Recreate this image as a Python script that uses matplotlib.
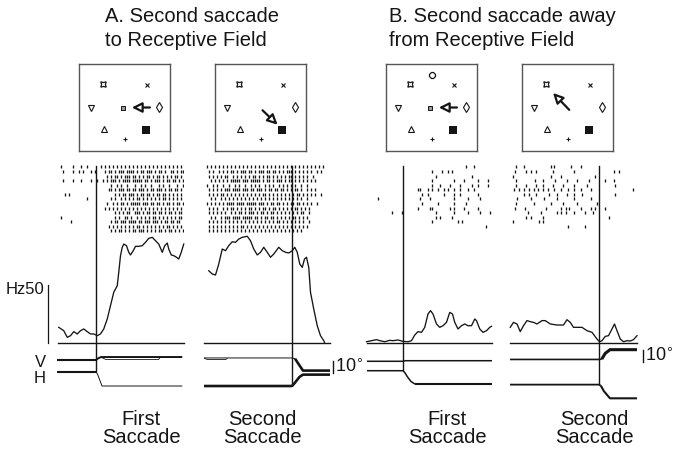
import numpy as np
import matplotlib.pyplot as plt
from matplotlib.patches import FancyArrowPatch

plt.rcParams['font.family'] = ['Liberation Sans', 'DejaVu Sans']

# ---------------- data ----------------
# Raster, panel A: one char per 8 ms bin, '|' = spike
BIN = 8
a1_start = -148   # ms of first char
a1_rows = [
    " |     |   |  |      | | | | | | | | | | | | | | | | | | | | | |",
    "  |    |  | |   | |    | || | ||| |||| | || ||| | || |  || | ||",
    "                        | | || | ||| || | | || | || | | | || | |",
    "  |    |   |    |  |  | | ||| | |||| ||||| || | ||| | || || | |",
    "                          |  | |  |   |  | |  |   | |  |   |  |",
    "                         || | ||| || || ||| | || ||| | || || | |",
    "   | |                      | | || ||| | || || | || || | | | |",
    "              |           | |  | | | | || | | | | | || | | | | ",
    "                        |  | | || | ||||| ||| || || | || | || |",
    "                       | | | | | | | | | | | | | | | | | | | | |",
    "                            | | | ||  ||| | || || || | || | || ",
    " |                          | |  || |  | | | | || | | | | | || ",
    "      |                   | || ||| |||| || ||| ||| | || || || ",
    "                         | | | | | | | || | | | | | | || | | | ",
    "                          | | || | | || ||| | | | || | || | | |",
]
a2_start = -348
a2_rows = [
    " | | | | | | | | | | | | | | | | | | | | | | | | | | | | | |",
    "  | |  | | | || | ||| || | ||| || || | | ||| | | | | |  | |",
    "  | | | | ||  | | | | | || | | || | | | | || | | | |  |",
    "   | | | | | ||||| ||| ||||| | || | ||| | || | | | | | |",
    " |  | |  |  |  | |  |  | | |  | | |  | | | | |  |  |",
    "  | | | | ||| |||| ||| || ||| | || || || | | || |  | | |",
    "  | | | || | | | | | | | | | || | | | | | | | || | | | |  |",
    "   | |  | | | | | | | | | | | | | | | | | | | | |  |",
    " | | | | | |||| |||| ||||| ||| | || || | | || || | | |  |",
    "  | | |  | | || | | | || | | || | || | | | | || | | |",
    "  | | | | |  | | || | ||| | || | || | | | | | | ||  |",
    "   | |  | ||| |||| ||||| || | || || | | | | || | | |",
    "  | | | | | | | | | | | | | | | | | || | | | | | |  |",
    "  | | | | | | | | || | | | | | | | | | | | | | | | |",
    "  | | | | | | | | | | | | | | | | | | | | | | | |",
]
# Raster, panel B: spike times (ms) per trial
b1_spikes = [
    [251, 283],
    [115, 155, 179, 195],
    [131, 275],
    [115, 203, 243, 299, 339],
    [115, 147, 187, 227, 275, 299, 339],
    [59, 67, 99, 115, 139, 163, 179, 203, 227, 259, 283],
    [75, 99, 163, 203, 227, 299],
    [-101, 67, 107, 203, 259, 307],
    [75, 139, 203, 251],
    [59, 107, 115, 187, 203, 243, 299],
    [-45, -5, 131, 203, 259, 307, 347],
    [131, 147, 195],
    [115, 219, 235],
    [331],
]
b2_spikes = [
    [-331, -299, -191, -179, -111, -71],
    [-337, -291, -271, -251, -183, -99, 61, 81],
    [-345, -191, -151, -17],
    [-331, -257, -225, -177, -127, -87, -39, 23, 61],
    [-331, -291, -251, -223, -183, -143, -99, -47, 65],
    [-339, -319, -299, -279, -259, -243, -223, -203, -179, -151, -123, -99, -71, -31, 135],
    [-299, -279, -251, -199, -167, -127, -99, -67, 65],
    [-327, -271, -219, -167, -99, -31],
    [-331, -259, -191, -143, -87, -7],
    [-337, -297, -211, -151, -131, -119, -71, -31, -17, 23],
    [-285, -231, -167, -151, -131, -99, -57, -25],
    [-291, -271, -223, 41],
    [-345, -239, -223],
    [-125, -57],
]

# Firing rate (Hz) vs time from saccade (ms)
a1_t = [-149, -129, -115, -102, -89, -75, -62, -49, -35, -22, -9, 5, 18, 31, 45, 58, 71, 85,
        91, 98, 105, 111, 122, 131, 138, 149, 158, 171, 185, 198, 211, 225, 238, 251, 265,
        275, 285, 291, 301, 311, 322, 331, 341, 351]
a1_hz = [13.5, 10.6, 4.9, 6.3, 9.8, 7.8, 10.6, 12.1, 9.8, 7.8, 7.8, 6.3, 7.8, 12.1, 20.7,
         32.2, 43.7, 49.4, 60.9, 75.3, 82.5, 85.3, 83.9, 78.2, 75.9, 79.6, 83.3, 83.3, 83.9,
         86.8, 90.2, 91.1, 88.2, 85.3, 78.2, 83.9, 86.2, 81.0, 75.9, 75.3, 73.9, 72.4, 78.2, 85.3]
a2_t = [-333, -319, -306, -293, -279, -266, -253, -239, -226, -213, -199, -179, -166, -153,
        -139, -126, -113, -99, -86, -73, -53, -39, -26, -13, 1, 11, 21, 31, 41, 50, 58, 67,
        74, 87, 101, 114, 127, 130]
a2_hz = [62.3, 59.5, 58.6, 68.1, 81.0, 79.6, 83.9, 87.3, 86.8, 89.6, 91.1, 92.0, 88.2, 81.0,
         75.9, 78.2, 82.5, 78.2, 73.9, 76.7, 82.5, 79.6, 78.2, 77.6, 79.6, 82.5, 78.2, 68.1,
         65.2, 72.4, 73.9, 65.2, 43.7, 29.3, 14.9, 6.3, 2.0, 0.6]
b1_t = [-146, -126, -106, -93, -73, -53, -40, -20, 0, 20, 34, 47, 60, 74, 87, 100, 110, 120,
        134, 147, 160, 174, 187, 198, 207, 220, 234, 247, 260, 274, 287, 294, 307, 320, 334,
        347, 354]
b1_hz = [1.1, 2.0, 2.9, 2.0, 1.1, 2.3, 2.0, 2.6, 1.4, 1.1, 2.0, 6.9, 9.8, 9.2, 13.5, 25.0,
         27.9, 25.0, 16.4, 13.5, 14.9, 17.8, 26.4, 25.0, 17.8, 12.1, 14.9, 16.4, 14.9, 14.9,
         20.7, 19.3, 12.1, 9.2, 10.6, 13.5, 14.4]
b2_t = [-355, -342, -328, -315, -302, -288, -275, -262, -248, -228, -215, -195, -168, -142,
        -128, -115, -102, -88, -68, -48, -28, -8, 2, 12, 25, 38, 52, 62, 72, 85, 98, 112,
        125, 138, 152]
b2_hz = [13.5, 17.8, 16.4, 9.8, 14.9, 19.3, 18.4, 17.8, 16.4, 19.3, 19.3, 16.4, 15.5, 15.5,
         20.1, 17.8, 13.5, 13.5, 13.5, 10.6, 9.2, 3.4, 1.1, 2.0, 5.7, 6.3, 12.1, 16.4, 10.6,
         3.4, 1.1, 2.0, 1.7, 2.9, 6.3]

# Eye position (deg) traces: (times, positions)
a1_eye = [
    ([-156, 0], [-14.8, -14.8]),
    ([0, 8, 20, 345], [-14.8, -13.4, -12.2, -12.2]),
    ([24, 40, 250, 256], [-12.8, -14.4, -14.4, -12.8]),
    ([-156, 0], [-25.2, -25.2]),
    ([0, 6, 24, 345], [-25.2, -27.0, -37.4, -37.4]),
]
a2_eye = [
    ([-352, 0, 12], [-13.0, -13.0, -13.6]),
    ([-352, -340, -265, -258], [-13.0, -14.3, -14.3, -13.4]),
    ([12, 30, 44, 152], [-13.6, -19.5, -24.0, -24.0]),
    ([-352, 0, 10, 30, 44, 152], [-37.4, -37.4, -35.0, -29.5, -27.5, -27.5]),
]
b1_eye = [
    ([-144, 0, 10, 356], [-15.9, -15.9, -15.4, -15.4]),
    ([-144, 0, 8, 18, 32, 48], [-24.1, -24.1, -26.0, -29.5, -33.5, -35.7]),
    ([48, 356], [-35.7, -35.7]),
]
b2_eye = [
    ([-356, 0, 11], [-14.3, -14.3, -14.0]),
    ([11, 25, 44, 152], [-14.0, -9.0, -5.8, -5.8]),
    ([-356, 0, 7], [-36.2, -36.2, -37.0]),
    ([7, 20, 44, 152], [-37.0, -42.0, -48.1, -48.1]),
]
eye_h_pre = [-25.2, -37.4, -24.1, -36.2]

# target layout in the stimulus boxes (fraction of box)
target_pos = {
    'oct': (0.51, 0.87), 'star': (0.26, 0.77), 'x': (0.75, 0.76),
    'tri_dn': (0.135, 0.50), 'center': (0.48, 0.50), 'diamond': (0.876, 0.51),
    'tri_up': (0.275, 0.25), 'square': (0.74, 0.24), 'plus': (0.51, 0.14),
}
box_targets = [
    ['star', 'x', 'tri_dn', 'center', 'diamond', 'tri_up', 'square', 'plus'],
    ['star', 'x', 'tri_dn', 'diamond', 'tri_up', 'square', 'plus'],
    ['oct', 'star', 'x', 'tri_dn', 'center', 'diamond', 'tri_up', 'square', 'plus'],
    ['star', 'x', 'tri_dn', 'diamond', 'tri_up', 'square', 'plus'],
]
box_arrows = [((0.81, 0.50), (0.55, 0.50)), ((0.50, 0.49), (0.71, 0.28)),
              ((0.81, 0.50), (0.55, 0.50)), ((0.54, 0.45), (0.32, 0.69))]

titles = [("A. Second saccade", "to Receptive Field"),
          ("B. Second saccade away", "from Receptive Field")]
bottom_labels = [("First", "Saccade"), ("Second", "Saccade"),
                 ("First", "Saccade"), ("Second", "Saccade")]

# ---------------- layout (pixels) ----------------
W, H = 673, 452
INK = '#151515'
MS_PER_PX = 4
HZ_PER_PX = 50 / 58
DEG_PER_PX = 1 / 1.15
COLS = [(58, 184, 96), (204, 330, 292), (367, 492, 403), (510, 637, 599)]
BOXES = [(79, 170), (215, 306), (386, 477), (522, 613)]
BOX_Y = (65, 152)
RASTER_Y = (165, 234)
PSTH_Y = (234, 344)
EYE_Y = (344, 402)

fig = plt.figure(figsize=(W / 100, H / 100), dpi=100)


def px_axes(x0, y0, x1, y1):
    return fig.add_axes([x0 / W, 1 - y1 / H, (x1 - x0) / W, (y1 - y0) / H])


def px_text(x, y, s, **kw):
    fig.text(x / W, 1 - y / H, s, color=INK, **kw)


def str_rows(rows, start):
    return [[start + BIN * i for i, ch in enumerate(r) if ch == '|'] for r in rows]


rasters = [str_rows(a1_rows, a1_start), str_rows(a2_rows, a2_start), b1_spikes, b2_spikes]
psths = [(a1_t, a1_hz), (a2_t, a2_hz), (b1_t, b1_hz), (b2_t, b2_hz)]
eyes = [a1_eye, a2_eye, b1_eye, b2_eye]
eye_lw = [[1.5, 1.4, 0.6, 1.5, 0.7], [0.7, 0.6, 1.9, 1.9], [1.1, 1.1, 1.5], [1.2, 2.2, 1.3, 1.5]]

psth_axes = []
eye_axes = []
for c, (left, right, sac) in enumerate(COLS):
    xlim = ((left - sac) * MS_PER_PX, (right - sac) * MS_PER_PX)

    # spike raster
    ax = px_axes(left, RASTER_Y[0], right, RASTER_Y[1])
    for k, ts in enumerate(rasters[c]):
        ax.vlines(ts, k + 1 - 0.33, k + 1 + 0.33, color=INK, lw=0.95)
    ax.axvline(0, color=INK, lw=1.0, ymax=0.97)
    ax.set_xlim(*xlim)
    ax.set_ylim(15.45, 0.35)
    ax.axis('off')

    # firing rate
    ax = px_axes(left, PSTH_Y[0], right, PSTH_Y[1])
    t, hz = psths[c]
    ax.plot(t, hz, color=INK, lw=0.95, clip_on=False)
    ax.axhline(0, color=INK, lw=1.0, clip_on=False)
    ax.axvline(0, color=INK, lw=1.0)
    ax.set_xlim(*xlim)
    ax.set_ylim(0, (PSTH_Y[1] - PSTH_Y[0]) * HZ_PER_PX)
    ax.axis('off')
    psth_axes.append(ax)

    # eye position
    ax = px_axes(left, EYE_Y[0], right, EYE_Y[1])
    for (et, ep), lw in zip(eyes[c], eye_lw[c]):
        ax.plot(et, ep, color=INK, lw=lw, solid_capstyle='butt', clip_on=False)
    ax.vlines(0, eye_h_pre[c], 0, color=INK, lw=1.0)
    ax.set_xlim(*xlim)
    ax.set_ylim(-(EYE_Y[1] - EYE_Y[0]) * DEG_PER_PX, 0)
    ax.axis('off')
    eye_axes.append(ax)

    # bottom label
    xc = [141, 262, 447, 594][c]
    px_text(xc, 420, bottom_labels[c][0], ha='center', va='center', fontsize=14.5)
    px_text(xc, 438, bottom_labels[c][1], ha='center', va='center', fontsize=14.5)

# scale bars
ax = psth_axes[0]
ax.plot([-192, -192], [0, 50], color=INK, lw=0.9, clip_on=False)
ax.text(-206, 47, 'Hz50', ha='right', va='center', fontsize=12, color=INK, clip_on=False)
ax = eye_axes[0]
ax.text(-224, -16.5, 'V', ha='center', va='center', fontsize=12, color=INK)
ax.text(-224, -29.6, 'H', ha='center', va='center', fontsize=12, color=INK)
for ax, tb, y0 in [(eye_axes[1], 164, -15.7), (eye_axes[3], 176, -6.1)]:
    ax.plot([tb, tb], [y0, y0 - 10], color=INK, lw=1.0, clip_on=False)
    ax.text(tb + 7, y0 - 5, '10$^{\\circ}$', ha='left', va='center', fontsize=13,
            color=INK, clip_on=False)

# stimulus boxes
marker_style = {
    'oct': dict(marker='8', ms=4.5, mfc='white', mew=0.9),
    'star': dict(marker=(4, 1, 45), ms=5.5, mfc='white', mew=0.9),
    'x': dict(marker='x', ms=2.5, mew=0.8),
    'tri_dn': dict(marker='v', ms=4.5, mfc='white', mew=0.8),
    'center': dict(marker='s', ms=3.2, mfc='#999999', mew=0.7),
    'diamond': dict(marker='d', ms=5.5, mfc='white', mew=0.8),
    'tri_up': dict(marker='^', ms=4.5, mfc='white', mew=0.8),
    'square': dict(marker='s', ms=5.8, mfc=INK, mew=0),
    'plus': dict(marker='+', ms=3.5, mew=0.8),
}
for c, (x0, x1) in enumerate(BOXES):
    ax = px_axes(x0, BOX_Y[0], x1, BOX_Y[1])
    ax.set_xlim(0, 1)
    ax.set_ylim(0, 1)
    ax.set_xticks([])
    ax.set_yticks([])
    for s in ax.spines.values():
        s.set_color('#555555')
        s.set_linewidth(1.0)
    for name in box_targets[c]:
        x, y = target_pos[name]
        ax.plot(x, y, color=INK, mec=INK, ls='none', **marker_style[name])
    tail, head = box_arrows[c]
    ax.add_patch(FancyArrowPatch(tail, head, arrowstyle='-|>,head_length=0.6,head_width=0.3',
                                 mutation_scale=10, fc='white', ec=INK, lw=1.6))

# titles
for (l1, l2), x in zip(titles, [105, 389]):
    px_text(x, 16, l1, ha='left', va='center', fontsize=14.5)
    px_text(x, 41, l2, ha='left', va='center', fontsize=14.5)

fig.savefig('out.png', dpi=100)
